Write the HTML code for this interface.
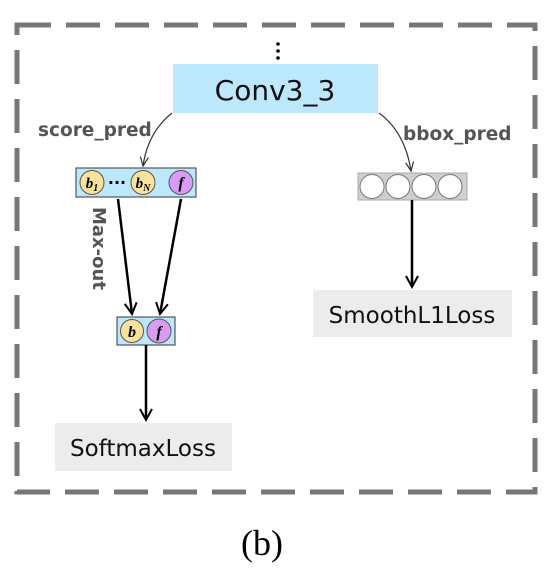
<!DOCTYPE html>
<html><head><style>
body{margin:0;width:558px;height:574px;background:#fff;overflow:hidden}
</style></head><body>
<svg width="558" height="574" viewBox="0 0 558 574" xmlns="http://www.w3.org/2000/svg" font-family="'DejaVu Sans','Liberation Sans',sans-serif">
<defs>
<marker id="a" markerWidth="14" markerHeight="16" refX="12" refY="7" orient="auto" markerUnits="userSpaceOnUse"><path d="M1,1 L12,7 L1,13" fill="none" stroke="#000" stroke-width="2"/></marker>
<marker id="t" markerWidth="12" markerHeight="12" refX="10" refY="5" orient="auto" markerUnits="userSpaceOnUse"><path d="M1,1 L10,5 L1,9" fill="none" stroke="#333" stroke-width="1.2"/></marker>
</defs>
<rect x="17" y="25" width="518" height="467" fill="none" stroke="#777" stroke-width="5" stroke-dasharray="34,15"/>
<circle cx="278" cy="44" r="1.8" fill="#000"/><circle cx="278" cy="51" r="1.8" fill="#000"/><circle cx="278" cy="58" r="1.8" fill="#000"/>
<rect x="173" y="64" width="205" height="49" fill="#bde8fb"/>
<text x="275" y="100" font-size="28" text-anchor="middle" fill="#111">Conv3_3</text>
<path d="M172,113 Q148,132 143,166" fill="none" stroke="#333" stroke-width="1.2" marker-end="url(#t)"/>
<path d="M379,113 Q405,132 411,171" fill="none" stroke="#333" stroke-width="1.2" marker-end="url(#t)"/>
<text x="38" y="136" font-size="18.5" font-weight="bold" fill="#555">score_pred</text>
<text x="403" y="140" font-size="18.5" font-weight="bold" fill="#555">bbox_pred</text>
<rect x="76" y="168" width="120" height="29" fill="#bde8fb" stroke="#555" stroke-width="1.2"/>
<circle cx="92" cy="182.5" r="12" fill="#fbe29a" stroke="#555"/>
<circle cx="143" cy="182.5" r="12" fill="#fbe29a" stroke="#555"/>
<circle cx="181" cy="182.5" r="12" fill="#d89cf5" stroke="#555"/>
<text x="92" y="188" font-size="15" font-weight="bold" font-style="italic" font-family="'Liberation Serif',serif" text-anchor="middle">b<tspan font-size="10" dy="3">1</tspan></text>
<text x="143" y="188" font-size="15" font-weight="bold" font-style="italic" font-family="'Liberation Serif',serif" text-anchor="middle">b<tspan font-size="10" dy="3">N</tspan></text>
<text x="181" y="188" font-size="16" font-weight="bold" font-style="italic" font-family="'Liberation Serif',serif" text-anchor="middle">f</text>
<text x="117" y="188" font-size="16" font-weight="bold" text-anchor="middle">···</text>
<rect x="358" y="173" width="109" height="27" fill="#d0d0d0" stroke="#aaa"/>
<circle cx="372" cy="186.5" r="12" fill="#fff" stroke="#777"/><circle cx="398" cy="186.5" r="12" fill="#fff" stroke="#777"/><circle cx="424" cy="186.5" r="12" fill="#fff" stroke="#777"/><circle cx="450" cy="186.5" r="12" fill="#fff" stroke="#777"/>
<text transform="translate(93,207) rotate(90)" font-size="18" font-weight="bold" fill="#555">Max-out</text>
<line x1="118" y1="199" x2="132" y2="314" stroke="#000" stroke-width="2.5" marker-end="url(#a)"/>
<line x1="181" y1="199" x2="160" y2="314" stroke="#000" stroke-width="2.5" marker-end="url(#a)"/>
<rect x="117" y="317" width="58" height="28" fill="#bde8fb" stroke="#555" stroke-width="1.2"/>
<circle cx="132" cy="331" r="11.5" fill="#fbe29a" stroke="#555"/>
<circle cx="159" cy="331" r="12" fill="#d89cf5" stroke="#555"/>
<text x="132" y="337" font-size="16" font-weight="bold" font-style="italic" font-family="'Liberation Serif',serif" text-anchor="middle">b</text>
<text x="159" y="337" font-size="16" font-weight="bold" font-style="italic" font-family="'Liberation Serif',serif" text-anchor="middle">f</text>
<line x1="146" y1="345" x2="146" y2="420" stroke="#000" stroke-width="2.5" marker-end="url(#a)"/>
<line x1="412" y1="200" x2="412" y2="287" stroke="#000" stroke-width="2.5" marker-end="url(#a)"/>
<rect x="55" y="423" width="177" height="48" fill="#ececec"/>
<text x="143" y="456" font-size="23" text-anchor="middle" fill="#111">SoftmaxLoss</text>
<rect x="313" y="290" width="199" height="47" fill="#ececec"/>
<text x="412" y="323" font-size="23" text-anchor="middle" fill="#111">SmoothL1Loss</text>
<text x="262" y="555" font-size="36" text-anchor="middle" font-family="'Liberation Serif',serif">(b)</text>
</svg>
</body></html>
